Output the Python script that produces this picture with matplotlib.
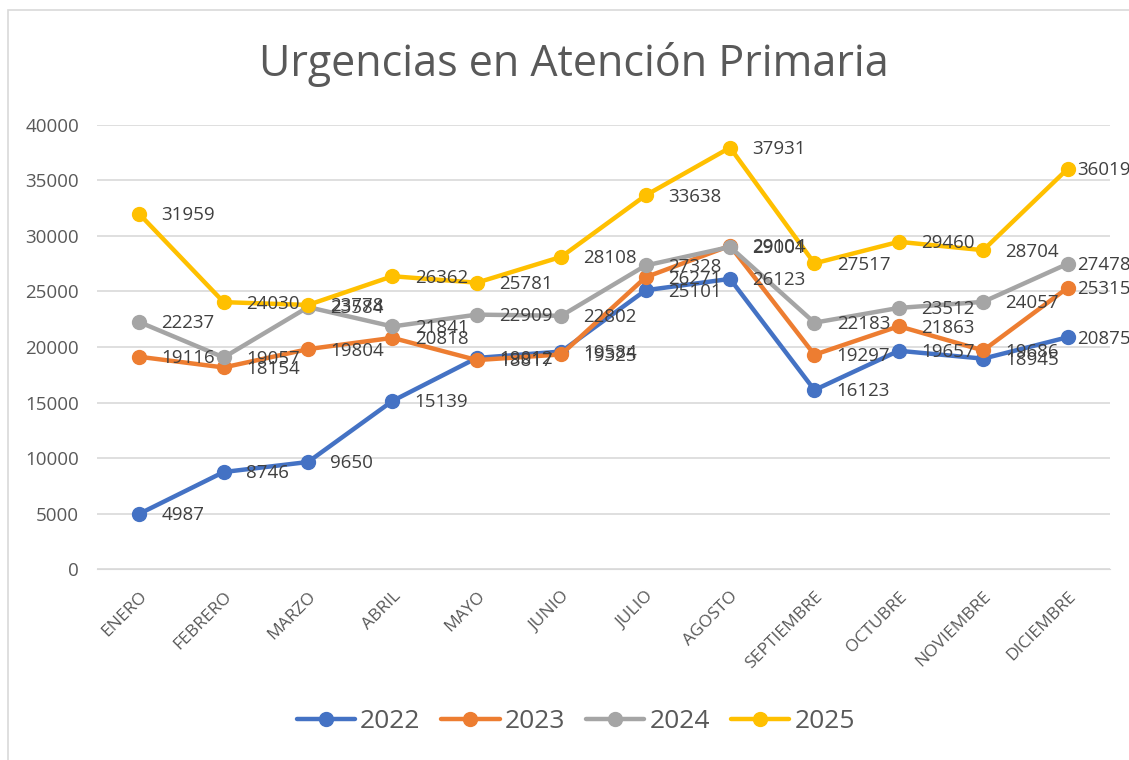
import matplotlib.pyplot as plt
from matplotlib.patches import Rectangle

plt.rcParams['font.family'] = ['Open Sans', 'DejaVu Sans']

# datos
meses = ['ENERO', 'FEBRERO', 'MARZO', 'ABRIL', 'MAYO', 'JUNIO', 'JULIO',
         'AGOSTO', 'SEPTIEMBRE', 'OCTUBRE', 'NOVIEMBRE', 'DICIEMBRE']
v2022 = [4987, 8746, 9650, 15139, 19012, 19584, 25101, 26123, 16123, 19657, 18945, 20875]
v2023 = [19116, 18154, 19804, 20818, 18817, 19325, 26271, 29104, 19297, 21863, 19686, 25315]
v2024 = [22237, 19057, 23584, 21841, 22909, 22802, 27328, 29001, 22183, 23512, 24057, 27478]
v2025 = [31959, 24030, 23778, 26362, 25781, 28108, 33638, 37931, 27517, 29460, 28704, 36019]

series = [('2022', v2022, '#4472C4'), ('2023', v2023, '#ED7D31'),
          ('2024', v2024, '#A5A5A5'), ('2025', v2025, '#FFC000')]

texto = '#595959'

fig = plt.figure(figsize=(11.29, 7.6), dpi=100)
ax = fig.add_axes([0.086, 0.251, 0.897, 0.585])

# marco exterior del gráfico
fig.patches.append(Rectangle((8 / 1129, -0.01), 1.1, 1 - 10 / 760 + 0.01, transform=fig.transFigure,
                             fill=False, edgecolor='#d9d9d9', linewidth=1.2))

x = list(range(len(meses)))
for nombre, vals, color in series:
    ax.plot(x, vals, color=color, linewidth=3.2, marker='o', markersize=10, label=nombre,
            solid_capstyle='round', zorder=3)
    for xi, yi in zip(x, vals):
        # la última etiqueta se acerca al punto para no salirse del gráfico
        dx = 7 if xi == x[-1] else 16
        ax.annotate(str(yi), (xi, yi), xytext=(dx, -1), textcoords='offset points',
                    fontsize=13.5, color='#404040', va='center', ha='left',
                    annotation_clip=False, zorder=4)

ax.set_xlim(-0.5, 11.5)
ax.set_ylim(0, 40000)
ax.set_yticks(range(0, 40001, 5000))
ax.yaxis.grid(True, color='#d9d9d9', linewidth=1.2)
ax.set_axisbelow(True)
for s in ax.spines.values():
    s.set_visible(False)
ax.spines['bottom'].set_visible(True)
ax.spines['bottom'].set_color('#d9d9d9')
ax.tick_params(axis='both', length=0, colors=texto, labelsize=13.5)
ax.tick_params(axis='y', pad=13)
ax.set_xticks(x)
ax.set_xticklabels(meses, rotation=45, ha='right', rotation_mode='anchor')
ax.tick_params(axis='x', pad=14, labelsize=12.5)

fig.text(0.508, 0.915, 'Urgencias en Atención Primaria', ha='center', va='center',
         fontsize=31, color=texto)

leg = fig.legend(loc='center', bbox_to_anchor=(0.51, 0.05), ncol=4, frameon=False,
                 fontsize=19, handlelength=2.2, columnspacing=0.8, handletextpad=0.2)
for t in leg.get_texts():
    t.set_color(texto)

plt.savefig('out.png', dpi=100)
